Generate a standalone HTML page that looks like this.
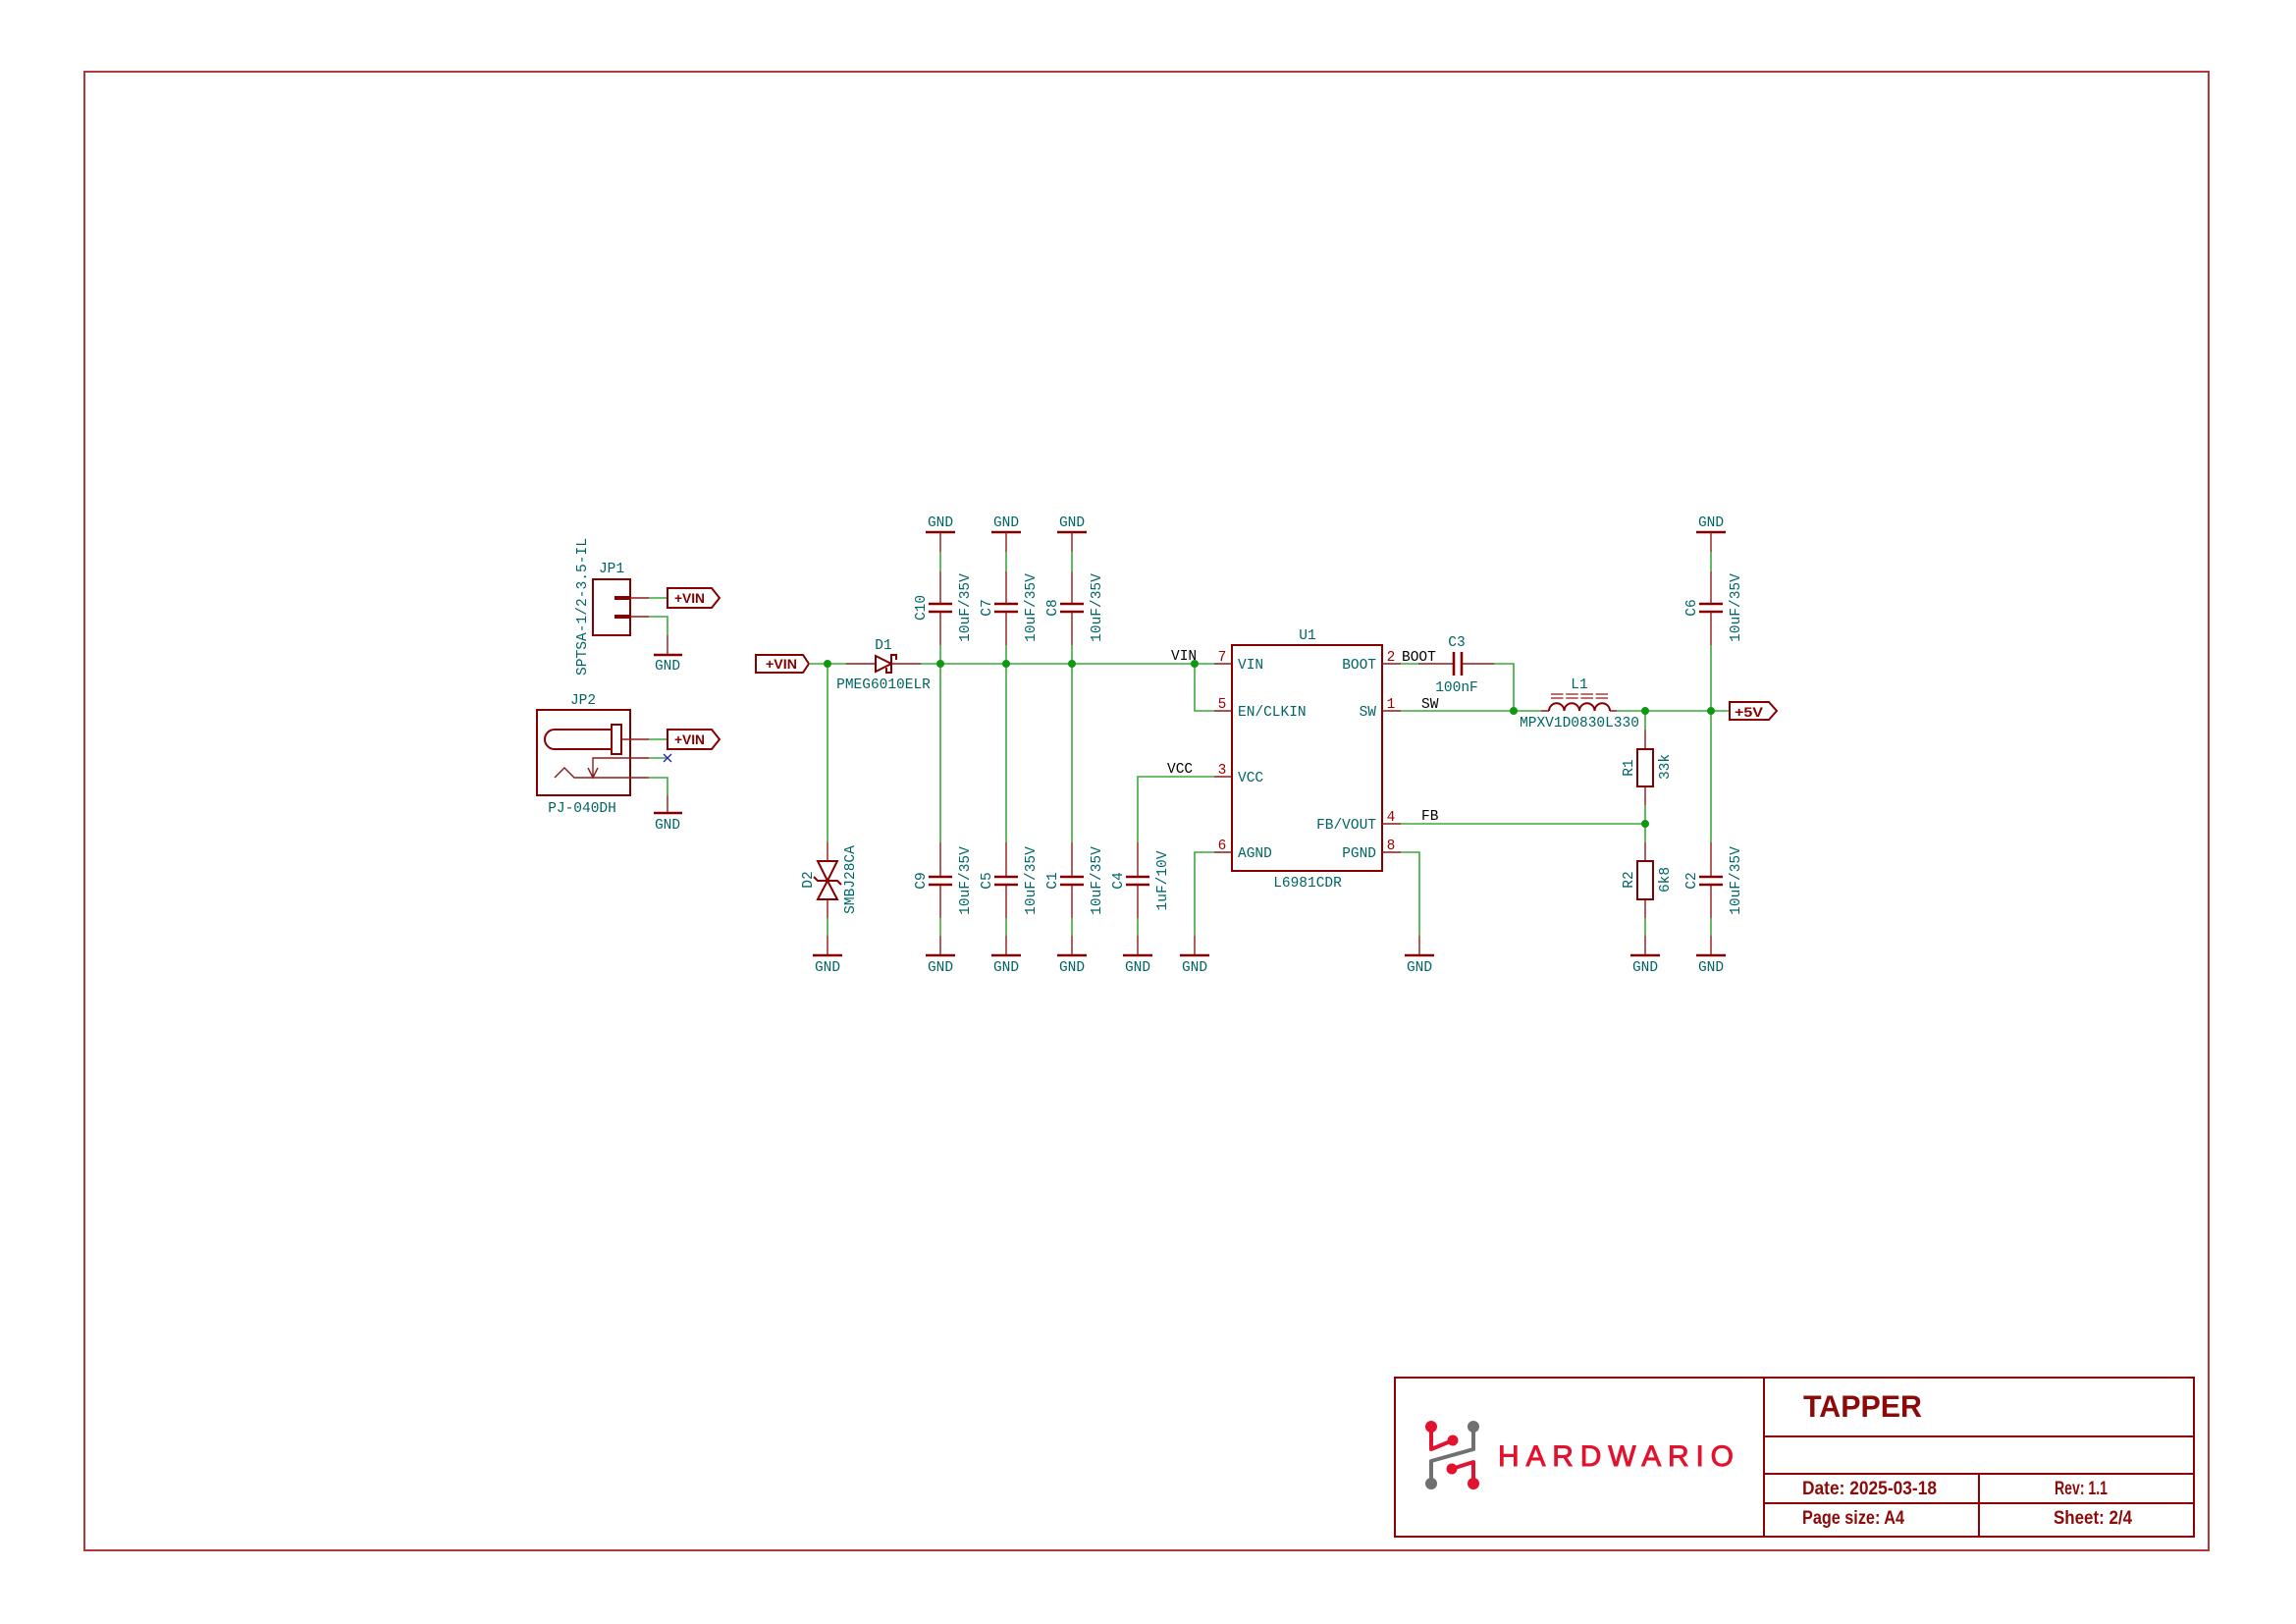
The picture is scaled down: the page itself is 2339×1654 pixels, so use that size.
<!DOCTYPE html>
<html><head><meta charset="utf-8"><style>
html,body{margin:0;padding:0;background:#fff}
svg{display:block}
.b{stroke:#840000;stroke-width:2;fill:none}
.p{stroke:#8e1a1a;stroke-width:1.4;fill:none}
.w{stroke:#3aa83a;stroke-width:1.6;fill:none}
.g{stroke:#840000;stroke-width:2.6;fill:none}
.t{font-family:"Liberation Mono",monospace;font-size:14.5px;fill:#006464}
.k{font-family:"Liberation Mono",monospace;font-size:14.5px;fill:#000}
.r{font-family:"Liberation Mono",monospace;font-size:14.5px;fill:#a00000}
.gl{font-family:"Liberation Sans",sans-serif;font-weight:bold;font-size:14px;fill:#840000}
.tb{font-family:"Liberation Sans",sans-serif;font-weight:bold;fill:#8b0a0a}
.tl{stroke:#8b0000;stroke-width:2;fill:none}
</style></head><body>
<svg width="2339" height="1654" viewBox="0 0 2339 1654" xmlns="http://www.w3.org/2000/svg">
<rect width="2339" height="1654" fill="#fff"/>
<rect x="86" y="73" width="2164" height="1506" fill="none" stroke="#b03a3a" stroke-width="2"/>

<!-- Title block -->
<rect class="tl" x="1421" y="1403" width="814" height="162"/>
<path class="tl" d="M1797 1403V1565M1797 1463H2235M1797 1501H2235M1797 1531H2235M2016 1501V1565"/>
<text class="tb" x="1837" y="1443" font-size="31.5" textLength="121" lengthAdjust="spacingAndGlyphs">TAPPER</text>
<text class="tb" x="1836" y="1522" font-size="19" textLength="137" lengthAdjust="spacingAndGlyphs">Date: 2025-03-18</text>
<text class="tb" x="2093" y="1522" font-size="19" textLength="54" lengthAdjust="spacingAndGlyphs">Rev: 1.1</text>
<text class="tb" x="1836" y="1552" font-size="19" textLength="104" lengthAdjust="spacingAndGlyphs">Page size: A4</text>
<text class="tb" x="2092" y="1552" font-size="19" textLength="80" lengthAdjust="spacingAndGlyphs">Sheet: 2/4</text>

<!-- Logo -->
<path d="M1458 1453V1476L1480 1467" stroke="#e2132e" stroke-width="4" fill="none" stroke-linejoin="round"/>
<path d="M1501 1453V1476L1458 1488V1511" stroke="#707070" stroke-width="4" fill="none" stroke-linejoin="round"/>
<path d="M1479 1496L1501 1489V1511" stroke="#e2132e" stroke-width="4" fill="none" stroke-linejoin="round"/>
<circle cx="1458" cy="1453" r="6" fill="#e2132e"/>
<circle cx="1501" cy="1453" r="6" fill="#707070"/>
<circle cx="1480" cy="1467" r="5.5" fill="#e2132e"/>
<circle cx="1479" cy="1496" r="5.5" fill="#e2132e"/>
<circle cx="1458" cy="1511" r="6" fill="#707070"/>
<circle cx="1501" cy="1511" r="6" fill="#e2132e"/>
<text x="1526" y="1493" font-family="Liberation Sans,sans-serif" font-size="30" fill="#e2132e" stroke="#e2132e" stroke-width="0.9" textLength="240" lengthAdjust="spacing">HARDWARIO</text>

<!-- JP1 -->
<rect class="b" x="604" y="590" width="38" height="57"/>
<path d="M626 609H642M626 628H642" stroke="#840000" stroke-width="4"/>
<path class="p" d="M642 609H661M642 628H661M680 647V667"/>
<path class="w" d="M661 609H680M661 628H680V647"/>
<path class="g" d="M666 667H695"/>
<text class="t" x="680" y="682" text-anchor="middle">GND</text>
<text class="t" x="623" y="583" text-anchor="middle">JP1</text>
<text class="t" transform="translate(597 618) rotate(-90)" text-anchor="middle" textLength="140" lengthAdjust="spacingAndGlyphs">SPTSA-1/2-3.5-IL</text>
<path class="b" stroke-width="1.8" d="M680 599H725L733 609L725 619H680Z"/>
<text class="gl" x="687" y="614" textLength="31" lengthAdjust="spacingAndGlyphs">+VIN</text>

<!-- JP2 -->
<rect class="b" x="547" y="723" width="95" height="87"/>
<path class="b" d="M623 743H565A10 10 0 0 0 565 763H623"/>
<rect class="b" x="623" y="738" width="10" height="30"/>
<path class="p" d="M633 753H661M604 792V772H661M565 792L575 782L585 792H661M599 782L604 792L609 782M680 810V828"/>
<path class="w" d="M661 753H680M661 772H680M661 792H680V810"/>
<path d="M676 768L684 776M684 768L676 776" stroke="#2a2aa0" stroke-width="1.4"/>
<path class="g" d="M666 828H695"/>
<text class="t" x="680" y="844" text-anchor="middle">GND</text>
<text class="t" x="594" y="717" text-anchor="middle">JP2</text>
<text class="t" x="593" y="827" text-anchor="middle">PJ-040DH</text>
<path class="b" stroke-width="1.8" d="M680 743H725L733 753L725 763H680Z"/>
<text class="gl" x="687" y="758" textLength="31" lengthAdjust="spacingAndGlyphs">+VIN</text>

<!-- Main +VIN -->
<path class="b" stroke-width="1.8" d="M770 667H818L824 676L818 685H770Z"/>
<text class="gl" x="780" y="681" textLength="32" lengthAdjust="spacingAndGlyphs">+VIN</text>
<path class="w" d="M824 676H862M938 676H1237M1217 676V724H1237M843 676V858"/>

<!-- D1 -->
<path class="p" d="M862 676H892M908 676H938"/>
<path class="b" d="M892 668V684L908 676ZM913 672V667H908V685H903V680"/>
<text class="t" x="900" y="661" text-anchor="middle">D1</text>
<text class="t" x="900" y="701" text-anchor="middle">PMEG6010ELR</text>

<!-- D2 -->
<path class="p" d="M843 858V877M843 916V935M843 953V973"/>
<path class="b" d="M833 877H853L843 897ZM833 916H853L843 897ZM829 893L833 897H853L857 901"/>
<path class="w" d="M843 935V953"/>
<path class="g" d="M828 973H858"/>
<text class="t" x="843" y="989" text-anchor="middle">GND</text>
<text class="t" transform="translate(827 896) rotate(-90)" text-anchor="middle">D2</text>
<text class="t" transform="translate(870 896) rotate(-90)" text-anchor="middle">SMBJ28CA</text>

<!-- Top caps C10 C7 C8 C6 -->
<g>
<path class="g" d="M943 542H973M946 615H970M946 623H970"/>
<path class="p" d="M958 542V562M958 582V615M958 623V657"/>
<path class="w" d="M958 562V582M958 657V858"/>
<text class="t" x="958" y="536" text-anchor="middle">GND</text>
<text class="t" transform="translate(942 619) rotate(-90)" text-anchor="middle">C10</text>
<text class="t" transform="translate(987 619) rotate(-90)" text-anchor="middle">10uF/35V</text>
</g>
<g>
<path class="g" d="M1010 542H1040M1013 615H1037M1013 623H1037"/>
<path class="p" d="M1025 542V562M1025 582V615M1025 623V657"/>
<path class="w" d="M1025 562V582M1025 657V858"/>
<text class="t" x="1025" y="536" text-anchor="middle">GND</text>
<text class="t" transform="translate(1009 619) rotate(-90)" text-anchor="middle">C7</text>
<text class="t" transform="translate(1054 619) rotate(-90)" text-anchor="middle">10uF/35V</text>
</g>
<g>
<path class="g" d="M1077 542H1107M1080 615H1104M1080 623H1104"/>
<path class="p" d="M1092 542V562M1092 582V615M1092 623V657"/>
<path class="w" d="M1092 562V582M1092 657V858"/>
<text class="t" x="1092" y="536" text-anchor="middle">GND</text>
<text class="t" transform="translate(1076 619) rotate(-90)" text-anchor="middle">C8</text>
<text class="t" transform="translate(1121 619) rotate(-90)" text-anchor="middle">10uF/35V</text>
</g>
<g>
<path class="g" d="M1728 542H1758M1731 615H1755M1731 623H1755"/>
<path class="p" d="M1743 542V562M1743 582V615M1743 623V657"/>
<path class="w" d="M1743 562V582M1743 657V858"/>
<text class="t" x="1743" y="536" text-anchor="middle">GND</text>
<text class="t" transform="translate(1727 619) rotate(-90)" text-anchor="middle">C6</text>
<text class="t" transform="translate(1772 619) rotate(-90)" text-anchor="middle">10uF/35V</text>
</g>

<!-- Bottom caps C9 C5 C1 C4 C2 -->
<g>
<path class="p" d="M958 858V893M958 901V935M958 953V973"/>
<path class="g" d="M946 893H970M946 901H970M943 973H973"/>
<path class="w" d="M958 935V953"/>
<text class="t" x="958" y="989" text-anchor="middle">GND</text>
<text class="t" transform="translate(942 897) rotate(-90)" text-anchor="middle">C9</text>
<text class="t" transform="translate(987 897) rotate(-90)" text-anchor="middle">10uF/35V</text>
</g>
<g>
<path class="p" d="M1025 858V893M1025 901V935M1025 953V973"/>
<path class="g" d="M1013 893H1037M1013 901H1037M1010 973H1040"/>
<path class="w" d="M1025 935V953"/>
<text class="t" x="1025" y="989" text-anchor="middle">GND</text>
<text class="t" transform="translate(1009 897) rotate(-90)" text-anchor="middle">C5</text>
<text class="t" transform="translate(1054 897) rotate(-90)" text-anchor="middle">10uF/35V</text>
</g>
<g>
<path class="p" d="M1092 858V893M1092 901V935M1092 953V973"/>
<path class="g" d="M1080 893H1104M1080 901H1104M1077 973H1107"/>
<path class="w" d="M1092 935V953"/>
<text class="t" x="1092" y="989" text-anchor="middle">GND</text>
<text class="t" transform="translate(1076 897) rotate(-90)" text-anchor="middle">C1</text>
<text class="t" transform="translate(1121 897) rotate(-90)" text-anchor="middle">10uF/35V</text>
</g>
<g>
<path class="w" d="M1237 791H1159V858"/>
<path class="p" d="M1159 858V893M1159 901V935M1159 953V973"/>
<path class="g" d="M1147 893H1171M1147 901H1171M1144 973H1174"/>
<path class="w" d="M1159 935V953"/>
<text class="t" x="1159" y="989" text-anchor="middle">GND</text>
<text class="t" transform="translate(1143 897) rotate(-90)" text-anchor="middle">C4</text>
<text class="t" transform="translate(1188 897) rotate(-90)" text-anchor="middle">1uF/10V</text>
</g>
<g>
<path class="p" d="M1743 858V893M1743 901V935M1743 953V973"/>
<path class="g" d="M1731 893H1755M1731 901H1755M1728 973H1758"/>
<path class="w" d="M1743 935V953"/>
<text class="t" x="1743" y="989" text-anchor="middle">GND</text>
<text class="t" transform="translate(1727 897) rotate(-90)" text-anchor="middle">C2</text>
<text class="t" transform="translate(1772 897) rotate(-90)" text-anchor="middle">10uF/35V</text>
</g>

<!-- U1 -->
<rect class="b" x="1255" y="657" width="153" height="230"/>
<path class="p" d="M1237 676H1255M1237 724H1255M1237 791H1255M1237 868H1255M1408 676H1427M1408 724H1427M1408 839H1427M1408 868H1427"/>
<text class="t" x="1332" y="651" text-anchor="middle">U1</text>
<text class="t" x="1332" y="903" text-anchor="middle">L6981CDR</text>
<text class="t" x="1261" y="681">VIN</text>
<text class="t" x="1261" y="729">EN/CLKIN</text>
<text class="t" x="1261" y="796">VCC</text>
<text class="t" x="1261" y="873">AGND</text>
<text class="t" x="1402" y="681" text-anchor="end">BOOT</text>
<text class="t" x="1402" y="729" text-anchor="end">SW</text>
<text class="t" x="1402" y="844" text-anchor="end">FB/VOUT</text>
<text class="t" x="1402" y="873" text-anchor="end">PGND</text>
<text class="r" x="1245" y="673" text-anchor="middle">7</text>
<text class="r" x="1245" y="721" text-anchor="middle">5</text>
<text class="r" x="1245" y="788" text-anchor="middle">3</text>
<text class="r" x="1245" y="865" text-anchor="middle">6</text>
<text class="r" x="1417" y="673" text-anchor="middle">2</text>
<text class="r" x="1417" y="721" text-anchor="middle">1</text>
<text class="r" x="1417" y="836" text-anchor="middle">4</text>
<text class="r" x="1417" y="865" text-anchor="middle">8</text>

<!-- Net labels -->
<text class="k" x="1193" y="672">VIN</text>
<text class="k" x="1189" y="787">VCC</text>
<text class="k" x="1428" y="673">BOOT</text>
<text class="k" x="1448" y="721">SW</text>
<text class="k" x="1448" y="835">FB</text>

<!-- AGND / PGND -->
<path class="w" d="M1237 868H1217V953M1427 868H1446V953"/>
<path class="p" d="M1217 953V973M1446 953V973"/>
<path class="g" d="M1202 973H1232M1431 973H1461"/>
<text class="t" x="1217" y="989" text-anchor="middle">GND</text>
<text class="t" x="1446" y="989" text-anchor="middle">GND</text>

<!-- C3 BOOT -->
<path class="w" d="M1427 676H1445M1522 676H1542V724"/>
<path class="p" d="M1445 676H1481M1489 676H1522"/>
<path class="g" d="M1481 664V688M1489 664V688"/>
<text class="t" x="1484" y="658" text-anchor="middle">C3</text>
<text class="t" x="1484" y="704" text-anchor="middle">100nF</text>

<!-- SW / L1 -->
<path class="w" d="M1427 724H1570M1647 724H1762"/>
<path class="p" d="M1570 724H1578M1640 724H1647"/>
<path class="b" d="M1578 724a7.75 7.75 0 0 1 15.5 0a7.75 7.75 0 0 1 15.5 0a7.75 7.75 0 0 1 15.5 0a7.75 7.75 0 0 1 15.5 0"/>
<path d="M1580 707H1638M1580 711H1638" stroke="#8e1a1a" stroke-width="1.3" stroke-dasharray="12.5 2.7" fill="none"/>
<text class="t" x="1609" y="701" text-anchor="middle">L1</text>
<text class="t" x="1609" y="740" text-anchor="middle">MPXV1D0830L330</text>

<!-- R1 / R2 / FB -->
<path class="w" d="M1676 724V743M1676 820V858M1427 839H1676M1676 935V953"/>
<path class="p" d="M1676 743V763M1676 801V820M1676 858V877M1676 916V935M1676 953V973"/>
<rect class="b" x="1668" y="763" width="16" height="38"/>
<rect class="b" x="1668" y="877" width="16" height="39"/>
<path class="g" d="M1661 973H1691"/>
<text class="t" x="1676" y="989" text-anchor="middle">GND</text>
<text class="t" transform="translate(1663 782) rotate(-90)" text-anchor="middle">R1</text>
<text class="t" transform="translate(1700 781) rotate(-90)" text-anchor="middle">33k</text>
<text class="t" transform="translate(1663 896) rotate(-90)" text-anchor="middle">R2</text>
<text class="t" transform="translate(1700 896) rotate(-90)" text-anchor="middle">6k8</text>

<!-- +5V -->
<path class="b" stroke-width="1.8" d="M1762 715H1802L1810 724L1802 733H1762Z"/>
<text class="gl" x="1767" y="730" textLength="29" lengthAdjust="spacingAndGlyphs">+5V</text>

<!-- Junctions -->
<g fill="#109810">
<circle cx="843" cy="676" r="4"/>
<circle cx="958" cy="676" r="4"/>
<circle cx="1025" cy="676" r="4"/>
<circle cx="1092" cy="676" r="4"/>
<circle cx="1217" cy="676" r="4"/>
<circle cx="1542" cy="724" r="4"/>
<circle cx="1676" cy="724" r="4"/>
<circle cx="1743" cy="724" r="4"/>
<circle cx="1676" cy="839" r="4"/>
</g>
</svg>
</body></html>
